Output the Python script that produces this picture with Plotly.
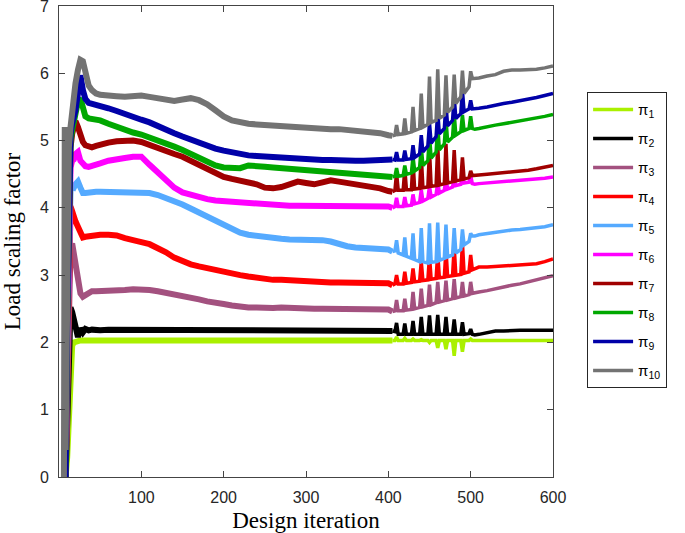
import plotly.graph_objects as go

# shared iteration grid (segments: start-up, smooth part, oscillation window, tail)
X_EARLY = [6, 7, 8, 10, 12, 14, 16, 18, 20, 23, 26, 29, 32, 36, 40, 45]
X_MID = [50, 60, 70, 80, 90, 100, 110, 120, 130, 140, 150, 160, 170, 180, 190, 200,
         210, 220, 230, 240, 250, 260, 270, 280, 290, 300, 310, 320, 330, 340, 350,
         360, 370, 380, 390, 400, 405]
X_OSC = [408, 410, 412, 418, 420, 422, 428, 430, 432, 438, 440, 442, 448, 450, 452,
         458, 460, 462, 468, 470, 472, 478, 480, 482, 488, 490, 492, 498, 500, 502]
X_LATE = [505, 510, 520, 530, 540, 550, 560, 570, 580, 590, 600]
ITER = X_EARLY + X_MID + X_OSC + X_LATE

PI1 = [0, 0, 0, 0.3, 0.9, 1.5, 1.95, 2.0, 2.01, 2.02, 2.03, 2.03, 2.03, 2.03, 2.03, 2.03,
       2.03, 2.03, 2.03, 2.03, 2.03, 2.03, 2.03, 2.03, 2.03, 2.03, 2.03, 2.03, 2.03, 2.03, 2.03, 2.03,
       2.03, 2.03, 2.03, 2.03, 2.03, 2.03, 2.03, 2.03, 2.03, 2.03, 2.03, 2.03, 2.03, 2.03, 2.03,
       2.03, 2.03, 2.03, 2.03, 2.03, 2.03,
       2.03, 2.08, 2.03, 2.03, 2.06, 2.03, 2.03, 2.05, 2.03, 2.03, 2.04, 2.03, 2.03, 2.0, 2.03,
       2.03, 1.92, 2.03, 2.03, 1.9, 2.03, 2.03, 1.8, 2.03, 2.03, 1.86, 2.03, 2.03, 2.05, 2.03,
       2.03, 2.03, 2.03, 2.03, 2.03, 2.03, 2.03, 2.03, 2.03, 2.03, 2.03]
PI2 = [0, 0, 0, 0.8, 2.0, 2.52, 2.45, 2.33, 2.28, 2.08, 2.21, 2.15, 2.2, 2.18, 2.19, 2.18,
       2.18, 2.19, 2.19, 2.19, 2.19, 2.18, 2.18, 2.18, 2.18, 2.18, 2.18, 2.18, 2.18, 2.19, 2.19, 2.18,
       2.18, 2.18, 2.18, 2.18, 2.18, 2.18, 2.18, 2.18, 2.18, 2.18, 2.18, 2.18, 2.18, 2.18, 2.18,
       2.18, 2.18, 2.18, 2.18, 2.18, 2.17,
       2.16, 2.29, 2.12, 2.12, 2.28, 2.12, 2.12, 2.32, 2.12, 2.12, 2.38, 2.12, 2.12, 2.4, 2.12,
       2.12, 2.41, 2.12, 2.12, 2.38, 2.12, 2.12, 2.34, 2.12, 2.12, 2.3, 2.12, 2.13, 2.2, 2.12,
       2.11, 2.12, 2.15, 2.17, 2.17, 2.18, 2.18, 2.18, 2.18, 2.18, 2.18]
PI3 = [0, 0, 0, 1.2, 2.6, 3.4, 3.47, 3.3, 3.12, 2.9, 2.73, 2.68, 2.7, 2.74, 2.76, 2.76,
       2.76, 2.77, 2.78, 2.78, 2.79, 2.79, 2.78, 2.76, 2.74, 2.72, 2.69, 2.67, 2.64, 2.61, 2.58, 2.57,
       2.55, 2.53, 2.52, 2.52, 2.51, 2.51, 2.52, 2.51, 2.50, 2.50, 2.50, 2.50, 2.50, 2.50, 2.51,
       2.50, 2.50, 2.50, 2.50, 2.49, 2.46,
       2.47, 2.63, 2.47, 2.47, 2.65, 2.48, 2.49, 2.75, 2.5, 2.52, 2.8, 2.53, 2.55, 2.86, 2.56,
       2.59, 2.9, 2.6, 2.62, 2.92, 2.63, 2.65, 2.94, 2.66, 2.68, 2.9, 2.69, 2.71, 2.9, 2.73,
       2.74, 2.75, 2.77, 2.8, 2.82, 2.85, 2.87, 2.9, 2.93, 2.96, 2.99]
PI4 = [0, 0, 0, 1.5, 3.2, 4.02, 3.95, 3.85, 3.8, 3.72, 3.65, 3.56, 3.57, 3.58, 3.58, 3.59,
       3.6, 3.6, 3.59, 3.55, 3.51, 3.49, 3.46, 3.41, 3.34, 3.26, 3.2, 3.16, 3.13, 3.1, 3.07, 3.04,
       3.02, 3.0, 2.98, 2.96, 2.94, 2.93, 2.93, 2.92, 2.91, 2.9, 2.89, 2.89, 2.89, 2.89, 2.89,
       2.89, 2.89, 2.89, 2.89, 2.88, 2.85,
       2.87, 3.0, 2.87, 2.87, 3.05, 2.88, 2.89, 3.1, 2.9, 2.91, 3.2, 2.92, 2.93, 3.28, 2.94,
       2.95, 3.33, 2.96, 2.97, 3.38, 2.98, 2.99, 3.42, 3.0, 3.01, 3.48, 3.03, 3.05, 3.3, 3.08,
       3.1, 3.12, 3.12, 3.13, 3.13, 3.14, 3.15, 3.16, 3.17, 3.2, 3.24]
PI5 = [0, 0, 0, 1.8, 3.7, 4.3, 4.31, 4.3, 4.35, 4.39, 4.3, 4.22, 4.22, 4.23, 4.24, 4.24,
       4.24, 4.24, 4.24, 4.23, 4.23, 4.23, 4.22, 4.19, 4.15, 4.1, 4.05, 3.99, 3.93, 3.86, 3.79, 3.73,
       3.67, 3.63, 3.6, 3.58, 3.56, 3.55, 3.54, 3.53, 3.53, 3.53, 3.53, 3.52, 3.5, 3.46, 3.43,
       3.41, 3.4, 3.4, 3.4, 3.38, 3.35,
       3.36, 3.52, 3.33, 3.3, 3.56, 3.28, 3.25, 3.62, 3.23, 3.2, 3.7, 3.2, 3.18, 3.77, 3.19,
       3.2, 3.78, 3.22, 3.25, 3.75, 3.27, 3.3, 3.7, 3.33, 3.38, 3.68, 3.45, 3.5, 3.62, 3.58,
       3.58, 3.6, 3.62, 3.64, 3.65, 3.67, 3.68, 3.69, 3.7, 3.72, 3.75]
PI6 = [0, 0, 0, 2.0, 4.0, 4.6, 4.7, 4.72, 4.8, 4.83, 4.7, 4.64, 4.62, 4.61, 4.63, 4.65,
       4.66, 4.7, 4.73, 4.74, 4.76, 4.76, 4.64, 4.52, 4.4, 4.3, 4.23, 4.19, 4.15, 4.13, 4.11, 4.1,
       4.08, 4.07, 4.06, 4.05, 4.04, 4.04, 4.03, 4.03, 4.03, 4.03, 4.02, 4.02, 4.02, 4.02, 4.02,
       4.02, 4.01, 4.01, 4.01, 4.02, 4.0,
       4.02, 4.15, 4.02, 4.02, 4.16, 4.03, 4.04, 4.2, 4.06, 4.08, 4.27, 4.1, 4.14, 4.32, 4.16,
       4.2, 4.39, 4.22, 4.26, 4.44, 4.28, 4.31, 4.46, 4.33, 4.35, 4.5, 4.37, 4.38, 4.48, 4.36,
       4.35, 4.36, 4.37, 4.37, 4.38, 4.39, 4.4, 4.41, 4.42, 4.44, 4.46]
PI7 = [0, 0, 0, 2.2, 4.3, 4.9, 5.1, 5.25, 5.29, 5.2, 5.08, 4.98, 4.93, 4.91, 4.9, 4.92,
       4.94, 4.97, 4.99, 5.0, 5.0, 4.98, 4.93, 4.88, 4.84, 4.8, 4.76, 4.7, 4.63, 4.56, 4.5, 4.46,
       4.43, 4.41, 4.39, 4.35, 4.3, 4.29, 4.31, 4.36, 4.39, 4.37, 4.35, 4.38, 4.41, 4.39, 4.37,
       4.36, 4.35, 4.33, 4.29, 4.25, 4.24,
       4.26, 4.52, 4.26, 4.26, 4.58, 4.27, 4.27, 4.69, 4.28, 4.29, 4.77, 4.3, 4.31, 4.86, 4.32,
       4.33, 4.94, 4.34, 4.36, 4.95, 4.37, 4.39, 4.86, 4.4, 4.42, 4.75, 4.43, 4.45, 4.55, 4.48,
       4.48, 4.49, 4.5, 4.51, 4.52, 4.53, 4.54, 4.56, 4.58, 4.6, 4.63]
PI8 = [0, 0, 0, 2.3, 4.5, 5.0, 5.15, 5.3, 5.4, 5.58, 5.63, 5.45, 5.36, 5.33, 5.32, 5.31,
       5.3, 5.25, 5.2, 5.15, 5.12, 5.09, 5.05, 5.0, 4.96, 4.91, 4.86, 4.8, 4.73, 4.68, 4.63, 4.6,
       4.59, 4.59, 4.63, 4.63, 4.61, 4.6, 4.59, 4.58, 4.57, 4.56, 4.55, 4.54, 4.53, 4.52, 4.51,
       4.5, 4.5, 4.49, 4.48, 4.46, 4.46,
       4.47, 4.59, 4.47, 4.48, 4.63, 4.5, 4.52, 4.76, 4.55, 4.6, 4.91, 4.63, 4.7, 5.08, 4.74,
       4.83, 5.23, 4.86, 4.95, 5.33, 4.98, 5.05, 5.4, 5.08, 5.13, 5.38, 5.15, 5.18, 5.36, 5.18,
       5.17, 5.18, 5.21, 5.23, 5.25, 5.27, 5.29, 5.31, 5.33, 5.36, 5.39]
PI9 = [0, 0, 0, 2.4, 4.6, 5.1, 5.25, 5.35, 5.45, 5.7, 5.97, 5.75, 5.62, 5.56, 5.55, 5.54,
       5.52, 5.48, 5.44, 5.39, 5.35, 5.31, 5.27, 5.21, 5.16, 5.11, 5.06, 5.01, 4.96, 4.92, 4.88, 4.85,
       4.82, 4.8, 4.78, 4.77, 4.76, 4.75, 4.74, 4.73, 4.73, 4.72, 4.71, 4.71, 4.71, 4.7, 4.7,
       4.7, 4.7, 4.71, 4.71, 4.72, 4.72,
       4.71, 4.83, 4.71, 4.71, 4.85, 4.72, 4.73, 4.93, 4.75, 4.8, 5.08, 4.83, 4.92, 5.26, 4.96,
       5.06, 5.43, 5.1, 5.18, 5.55, 5.22, 5.3, 5.65, 5.33, 5.4, 5.75, 5.43, 5.47, 5.6, 5.47,
       5.47, 5.48, 5.5, 5.53, 5.55, 5.57, 5.59, 5.61, 5.64, 5.67, 5.7]
PI10 = [0, 5.2, 0.4, 4.5, 4.9, 5.2, 5.45, 5.65, 5.85, 6.05, 6.2, 6.18, 6.0, 5.82, 5.75, 5.7,
        5.68, 5.66, 5.66, 5.65, 5.66, 5.67, 5.65, 5.63, 5.6, 5.59, 5.61, 5.63, 5.6, 5.54, 5.45, 5.36,
        5.3, 5.27, 5.25, 5.24, 5.23, 5.22, 5.21, 5.2, 5.19, 5.18, 5.18, 5.17, 5.17, 5.17, 5.16,
        5.16, 5.15, 5.13, 5.11, 5.08, 5.07,
        5.08, 5.23, 5.09, 5.1, 5.33, 5.11, 5.13, 5.5, 5.15, 5.18, 5.7, 5.2, 5.24, 5.95, 5.27,
        5.3, 6.06, 5.33, 5.38, 5.97, 5.42, 5.5, 5.98, 5.55, 5.65, 6.04, 5.7, 5.8, 6.03, 5.92,
        5.92, 5.93, 5.96, 5.98, 6.03, 6.05, 6.05, 6.05, 6.06, 6.08, 6.11]

SERIES = [PI1, PI2, PI3, PI4, PI5, PI6, PI7, PI8, PI9, PI10]
NAMES = ["π<sub>%d</sub>" % i for i in range(1, 11)]
COLORS = ["#aaf000", "#000000", "#a3517f", "#ff0000", "#55aaff",
          "#ff00ff", "#a00000", "#00a800", "#0000a8", "#737373"]

split = len(X_EARLY) + len(X_MID)  # index just after x=405

fig = go.Figure()
for i, (ys, name, col) in enumerate(zip(SERIES, NAMES, COLORS)):
    fig.add_trace(go.Scatter(x=ITER[:split], y=ys[:split], mode="lines",
                             line=dict(color=col, width=6), legendgroup=str(i),
                             showlegend=False, hoverinfo="skip"))
    fig.add_trace(go.Scatter(x=ITER[split - 1:], y=ys[split - 1:], mode="lines", name=name,
                             line=dict(color=col, width=3.5), legendgroup=str(i),
                             showlegend=True))

axis_common = dict(showline=True, linecolor="#444444", linewidth=1, mirror="ticks",
                   ticks="inside", ticklen=6, tickcolor="#444444", showgrid=False,
                   zeroline=False, ticklabeloverflow="allow", automargin=False,
                   tickfont=dict(family="Liberation Sans, Arial", size=16, color="#262626"))

fig.update_layout(
    template="none",
    width=685, height=533,
    margin=dict(l=59, r=132, t=6, b=56, autoexpand=False),
    paper_bgcolor="white", plot_bgcolor="white",
    xaxis=dict(range=[0, 600], tickvals=[100, 200, 300, 400, 500, 600],
               ticklabelstandoff=6,
               title=dict(text="Design iteration", standoff=6,
                          font=dict(family="Liberation Serif, Times New Roman", size=23,
                                    color="#000000")),
               **axis_common),
    yaxis=dict(range=[0, 7], tickvals=[0, 1, 2, 3, 4, 5, 6, 7],
               ticklabelstandoff=6,
               title=dict(text="Load scaling factor", standoff=12,
                          font=dict(family="Liberation Serif, Times New Roman", size=23,
                                    color="#000000")),
               **axis_common),
    legend=dict(x=1.069, y=0.817, xanchor="left", yanchor="top",
                bordercolor="#262626", borderwidth=1, bgcolor="white",
                font=dict(family="Liberation Sans, Arial", size=15, color="#000000"),
                tracegroupgap=6.5, itemwidth=40),
    showlegend=True,
)

fig.write_html("out.html", config={"displayModeBar": False},
               post_script="document.body.style.margin='0px';document.body.style.overflow='hidden';")
